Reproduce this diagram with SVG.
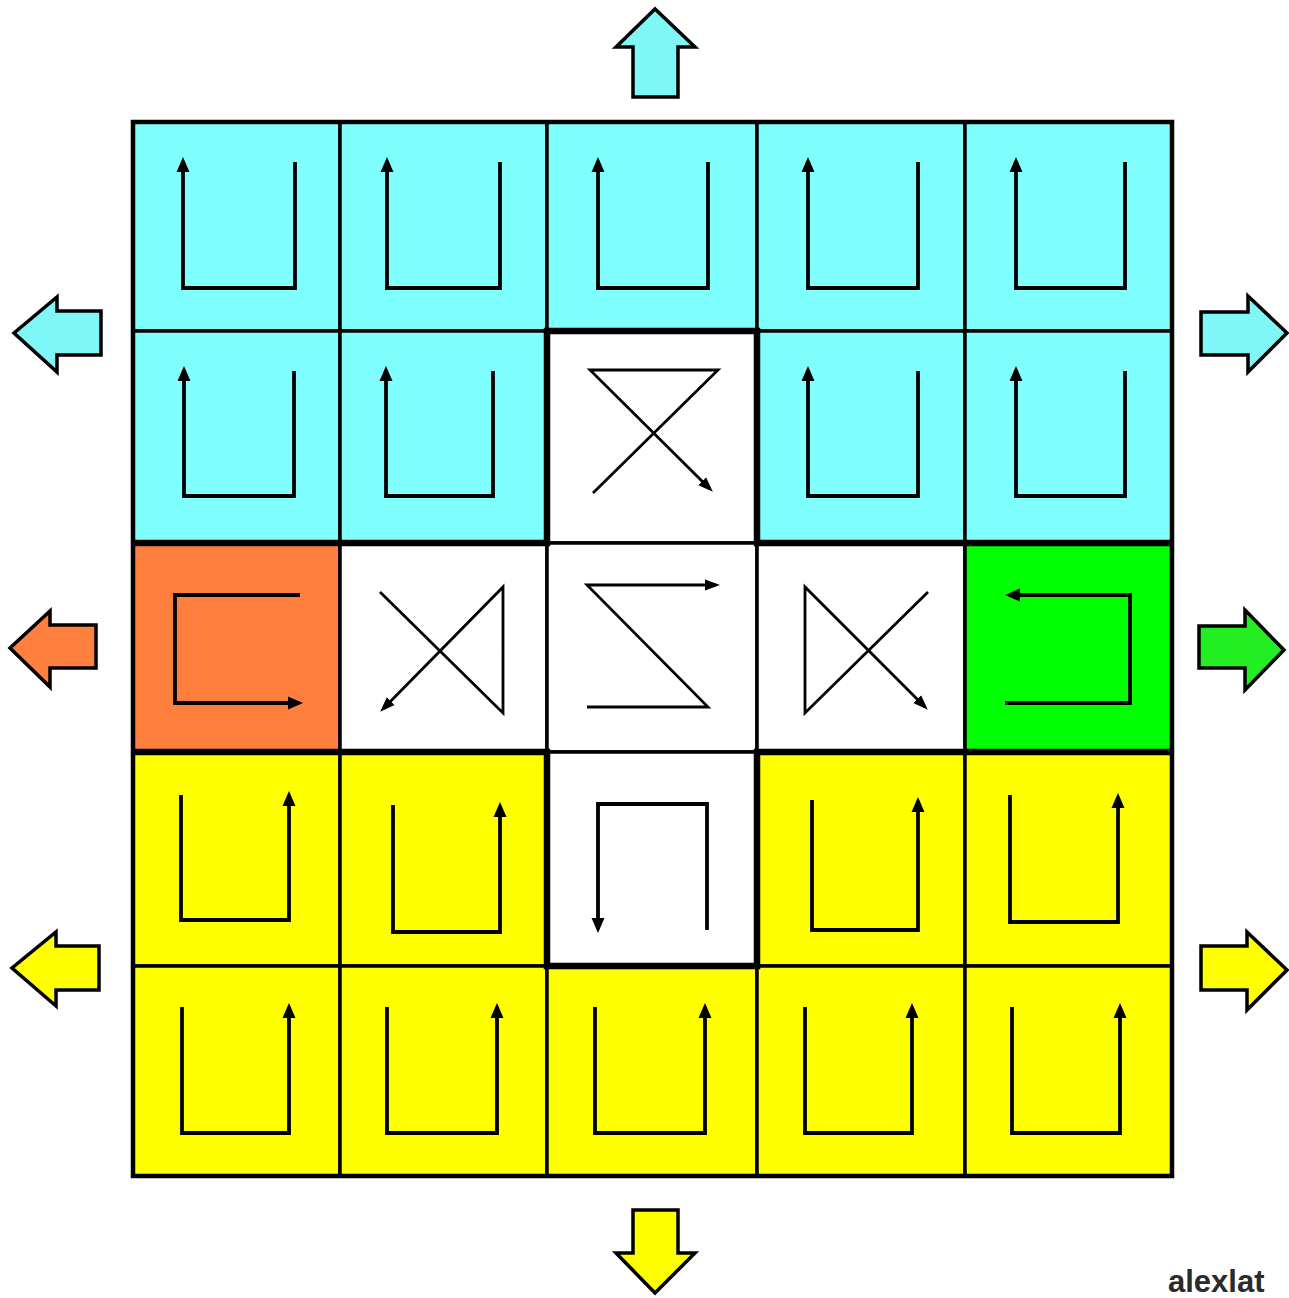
<svg xmlns="http://www.w3.org/2000/svg" width="1289" height="1298" viewBox="0 0 1289 1298">
<style>
.cell{stroke:#000;stroke-width:3.5}
.cy{fill:#80FFFF}.ye{fill:#FFFF00}.wh{fill:#FFFFFF}.or{fill:#FF7F3F}.gr{fill:#00FF00}
.g{fill:none;stroke:#000;stroke-width:3.8;stroke-linejoin:miter;marker-end:url(#ah)}
.gt{fill:none;stroke:#000;stroke-width:2.8;stroke-linejoin:miter;marker-end:url(#ah2)}
.big{stroke:#000;stroke-width:3.5;stroke-linejoin:miter}
.thick{fill:none;stroke:#000;stroke-width:6.5;stroke-linejoin:miter}
.frame{fill:none;stroke:#000;stroke-width:4.5}
</style>
<defs>
<marker id="ah" markerUnits="userSpaceOnUse" markerWidth="16" markerHeight="14" refX="11" refY="7" orient="auto" viewBox="0 0 16 14">
<path d="M0,0.5 L15,7 L0,13.5 z" fill="#000"/>
</marker>
<marker id="ah2" markerUnits="userSpaceOnUse" markerWidth="16" markerHeight="14" refX="11" refY="7" orient="auto" viewBox="0 0 16 14">
<path d="M0,1.5 L15,7 L0,12.5 z" fill="#000"/>
</marker>
</defs>
<rect width="1289" height="1298" fill="#fff"/>

<!-- Row 0 -->
<g id="cell-r0c0"><rect class="cell cy" x="133" y="122" width="207" height="209"/><path class="g" d="M295,162 V288 H183 V161"/></g>
<g id="cell-r0c1"><rect class="cell cy" x="340" y="122" width="207" height="209"/><path class="g" d="M500,162 V288 H387 V161"/></g>
<g id="cell-r0c2"><rect class="cell cy" x="547" y="122" width="210" height="209"/><path class="g" d="M708,162 V288 H598 V161"/></g>
<g id="cell-r0c3"><rect class="cell cy" x="757" y="122" width="208" height="209"/><path class="g" d="M918,162 V288 H808 V161"/></g>
<g id="cell-r0c4"><rect class="cell cy" x="965" y="122" width="207" height="209"/><path class="g" d="M1125,162 V288 H1016 V161"/></g>

<!-- Row 1 -->
<g id="cell-r1c0"><rect class="cell cy" x="133" y="331" width="207" height="212"/><path class="g" d="M294,371 V496 H184 V370"/></g>
<g id="cell-r1c1"><rect class="cell cy" x="340" y="331" width="207" height="212"/><path class="g" d="M493,371 V496 H386 V370"/></g>
<g id="cell-r1c2"><rect class="cell wh" x="547" y="331" width="210" height="212"/><path class="gt" d="M593,493 L718,370 H590 L710,489"/></g>
<g id="cell-r1c3"><rect class="cell cy" x="757" y="331" width="208" height="212"/><path class="g" d="M918,371 V496 H808 V370"/></g>
<g id="cell-r1c4"><rect class="cell cy" x="965" y="331" width="207" height="212"/><path class="g" d="M1125,371 V496 H1016 V370"/></g>

<!-- Row 2 -->
<g id="cell-r2c0"><rect class="cell or" x="133" y="543" width="207" height="209"/><path class="g" d="M300,595 H175 V703 H299"/></g>
<g id="cell-r2c1"><rect class="cell wh" x="340" y="543" width="207" height="209"/><path class="gt" d="M380,592 L503,713 V587 L383,709"/></g>
<g id="cell-r2c2"><rect class="cell wh" x="547" y="543" width="210" height="209"/><path class="gt" d="M587,707 H708 L587,585 H716"/></g>
<g id="cell-r2c3"><rect class="cell wh" x="757" y="543" width="208" height="209"/><path class="gt" d="M928,592 L805,713 V587 L925,707"/></g>
<g id="cell-r2c4"><rect class="cell gr" x="965" y="543" width="207" height="209"/><path class="g" d="M1005,703 H1130 V595 H1009"/></g>

<!-- Row 3 -->
<g id="cell-r3c0"><rect class="cell ye" x="133" y="752" width="207" height="214"/><path class="g" d="M181,795 V920 H289 V795"/></g>
<g id="cell-r3c1"><rect class="cell ye" x="340" y="752" width="207" height="214"/><path class="g" d="M393,805 V932 H500 V806"/></g>
<g id="cell-r3c2"><rect class="cell wh" x="547" y="752" width="210" height="214"/><path class="g" d="M707,930 V804 H598 V929"/></g>
<g id="cell-r3c3"><rect class="cell ye" x="757" y="752" width="208" height="214"/><path class="g" d="M812,800 V930 H918 V801"/></g>
<g id="cell-r3c4"><rect class="cell ye" x="965" y="752" width="207" height="214"/><path class="g" d="M1010,795 V922 H1118 V797"/></g>

<!-- Row 4 -->
<g id="cell-r4c0"><rect class="cell ye" x="133" y="966" width="207" height="210"/><path class="g" d="M182,1007 V1133 H289 V1007"/></g>
<g id="cell-r4c1"><rect class="cell ye" x="340" y="966" width="207" height="210"/><path class="g" d="M387,1007 V1133 H497 V1007"/></g>
<g id="cell-r4c2"><rect class="cell ye" x="547" y="966" width="210" height="210"/><path class="g" d="M595,1007 V1133 H705 V1007"/></g>
<g id="cell-r4c3"><rect class="cell ye" x="757" y="966" width="208" height="210"/><path class="g" d="M805,1007 V1133 H912 V1007"/></g>
<g id="cell-r4c4"><rect class="cell ye" x="965" y="966" width="207" height="210"/><path class="g" d="M1012,1007 V1133 H1120 V1007"/></g>

<!-- outer frame and thick outline of the middle cross -->
<g id="cross-outline">
<rect class="frame" x="133" y="122" width="1039" height="1054"/>
<path class="thick" d="M133,543 H547 V331 H757 V543 H1172"/>
<path class="thick" d="M133,752 H547 V966 H757 V752 H1172"/>
</g>

<g id="connectors">
<polygon id="arrow-top" class="big" fill="#7FF7F7" points="633,97 633,47 616,47 655,9 695,47 678,47 678,97"/>
<polygon id="arrow-bottom" class="big" fill="#FFFF00" points="633,1210 678,1210 678,1253 695,1253 655,1293 616,1253 633,1253"/>
<polygon id="arrow-left-cyan" class="big" fill="#7FF7F7" points="101,311 57,311 57,297 14,333 57,372 57,355 101,355"/>
<polygon id="arrow-left-orange" class="big" fill="#FF7F3F" points="96,625 50,625 50,611 10,648 50,687 50,668 96,668"/>
<polygon id="arrow-left-yellow" class="big" fill="#FFFF00" points="99,946 56,946 56,932 12,968 56,1006 56,990 99,990"/>
<polygon id="arrow-right-cyan" class="big" fill="#7FF7F7" points="1201,312 1248,312 1248,296 1287,333 1248,372 1248,355 1201,355"/>
<polygon id="arrow-right-green" class="big" fill="#22EE22" points="1199,626 1245,626 1245,610 1284,650 1245,690 1245,668 1199,668"/>
<polygon id="arrow-right-yellow" class="big" fill="#FFFF00" points="1201,946 1247,946 1247,932 1287,970 1247,1010 1247,990 1201,990"/>
</g>

<text x="1168" y="1292" font-family="Liberation Sans, Arial, sans-serif" font-weight="bold" font-size="31" fill="#2b2b2b">alexlat</text>
</svg>
